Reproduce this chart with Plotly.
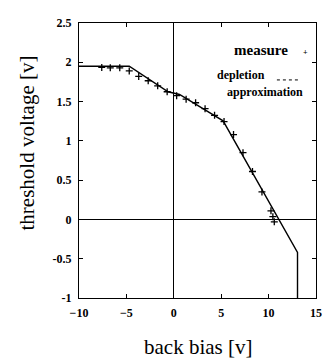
import plotly.graph_objects as go

# measured threshold voltage vs back bias
measure_x = [-7.6, -6.7, -5.7, -4.7, -3.7, -2.7, -1.7, -0.7, 0.3, 1.3, 2.3, 3.3,
             4.3, 5.3, 6.3, 7.3, 8.3, 9.3, 10.25, 10.45, 10.6]
measure_y = [1.935, 1.93, 1.93, 1.89, 1.82, 1.765, 1.70, 1.625, 1.575, 1.53, 1.485, 1.41,
             1.325, 1.245, 1.08, 0.85, 0.61, 0.35, 0.11, 0.035, -0.03]

# depletion approximation (piecewise model)
approx_x = [-10, -4.7, -0.6, 0.6, 5.2, 13.05, 13.05]
approx_y = [1.95, 1.95, 1.625, 1.59, 1.255, -0.42, -1.0]

x_ticks = [-10, -5, 0, 5, 10, 15]
y_ticks = [-1, -0.5, 0, 0.5, 1, 1.5, 2, 2.5]
y_tick_text = ["-1", "-0.5", "0", "0.5", "1", "1.5", "2", "2.5"]

serif = "Liberation Serif, Times New Roman, serif"

fig = go.Figure()
fig.add_trace(go.Scatter(x=approx_x, y=approx_y, mode="lines",
                         line=dict(color="black", width=1.4), showlegend=False))
fig.add_trace(go.Scatter(x=measure_x, y=measure_y, mode="markers",
                         marker=dict(symbol="cross-thin", size=5,
                                     line=dict(color="black", width=1.3)),
                         showlegend=False))

axis_common = dict(showgrid=False, zeroline=True, zerolinecolor="black", zerolinewidth=1.2,
                   showline=True, linecolor="black", linewidth=1.3, mirror="allticks",
                   ticks="inside", ticklen=4, tickcolor="black",
                   tickfont=dict(family=serif, size=12, color="black", weight="bold"))

fig.update_xaxes(range=[-10, 15], tickvals=x_ticks, ticklabelstandoff=3, **axis_common)
fig.update_yaxes(range=[-1, 2.5], tickvals=y_ticks, ticktext=y_tick_text,
                 ticklabelstandoff=4, **axis_common)

# axis titles
fig.add_annotation(xref="paper", yref="paper", x=0.502, y=-0.178, text="back bias [v]",
                   showarrow=False, xanchor="center", yanchor="middle",
                   font=dict(family=serif, size=21, color="black"))
fig.add_annotation(xref="paper", yref="paper", x=-0.22, y=0.565, text="threshold voltage [v]",
                   showarrow=False, xanchor="center", yanchor="middle", textangle=-90,
                   font=dict(family=serif, size=21, color="black"))

# legend (text left, symbol right, as in the original)
fig.add_annotation(xref="paper", yref="paper", x=0.89, y=0.9, text="<b>measure</b>",
                   showarrow=False, xanchor="right", yanchor="middle",
                   font=dict(family=serif, size=15, color="black"))
fig.add_annotation(xref="paper", yref="paper", x=0.955, y=0.893, text="<b>+</b>",
                   showarrow=False, xanchor="center", yanchor="middle",
                   font=dict(family=serif, size=8, color="black"))
fig.add_annotation(xref="paper", yref="paper", x=0.795, y=0.81, text="<b>depletion</b>",
                   showarrow=False, xanchor="right", yanchor="middle",
                   font=dict(family=serif, size=12, color="black"))
fig.add_annotation(xref="paper", yref="paper", x=0.955, y=0.749, text="<b>approximation</b>",
                   showarrow=False, xanchor="right", yanchor="middle",
                   font=dict(family=serif, size=12, color="black"))
fig.add_shape(type="line", xref="paper", yref="paper", x0=0.835, x1=0.925, y0=0.793, y1=0.793,
              line=dict(color="black", width=1, dash="dot"))

fig.update_layout(width=334, height=359, margin=dict(l=79, r=18, t=23, b=61),
                  paper_bgcolor="white", plot_bgcolor="white", showlegend=False)

fig.write_html("out.html", config={"displayModeBar": False},
               post_script="document.body.style.margin='0px';")
